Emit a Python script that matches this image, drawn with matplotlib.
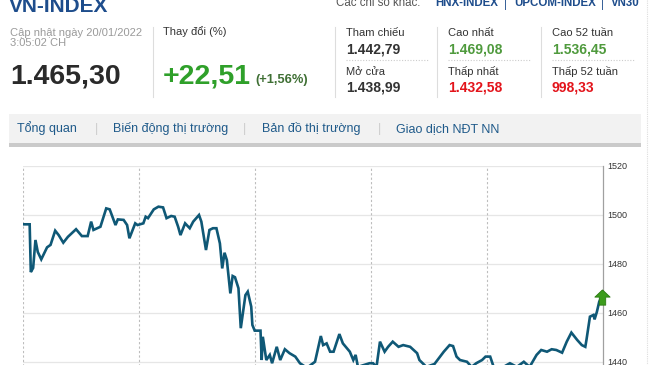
import matplotlib
matplotlib.use("Agg")
import matplotlib.pyplot as plt
from matplotlib.lines import Line2D
from matplotlib.patches import Rectangle
from matplotlib.path import Path
import numpy as np

plt.rcParams['font.family'] = ['Liberation Sans', 'DejaVu Sans']

# ---- data ----
index_name = "VN-INDEX"
updated = ["Cập nhật ngày 20/01/2022", "3:05:02 CH"]
last_value = "1.465,30"
change = "+22,51"
change_pct = "(+1,56%)"
other_label = "Các chỉ số khác:"
other_links = ["HNX-INDEX", "UPCOM-INDEX", "VN30"]
stat_labels = [["Tham chiếu", "Mở cửa"], ["Cao nhất", "Thấp nhất"], ["Cao 52 tuần", "Thấp 52 tuần"]]
stat_values = [["1.442,79", "1.438,99"], ["1.469,08", "1.432,58"], ["1.536,45", "998,33"]]
stat_colors = [["#333333", "#333333"], ["#4f9a3d", "#e3141b"], ["#4f9a3d", "#e3141b"]]
tabs = ["Tổng quan", "Biến động thị trường", "Bản đồ thị trường", "Giao dịch NĐT NN"]

# intraday series, x in trading days (5 days shown)
t = [0.00, 0.06, 0.07, 0.09, 0.11, 0.13, 0.16, 0.21, 0.24, 0.28, 0.31, 0.35, 0.39, 0.46,
     0.51, 0.56, 0.59, 0.61, 0.67, 0.72, 0.75, 0.80, 0.82, 0.87, 0.90, 0.92, 0.97, 0.99,
     1.04, 1.06, 1.08, 1.13, 1.17, 1.21, 1.24, 1.28, 1.31, 1.34, 1.36, 1.40, 1.44, 1.47,
     1.52, 1.54, 1.58, 1.61, 1.64, 1.67, 1.70, 1.72, 1.74, 1.76, 1.79, 1.81, 1.83, 1.86,
     1.88, 1.92, 1.94, 1.97, 1.98, 2.00, 2.05, 2.06, 2.07, 2.10, 2.13, 2.15, 2.19, 2.22,
     2.26, 2.30, 2.35, 2.39, 2.45, 2.52, 2.57, 2.59, 2.62, 2.65, 2.68, 2.73, 2.76, 2.82,
     2.85, 2.87, 2.89, 2.99, 3.02, 3.05, 3.08, 3.12, 3.15, 3.19, 3.24, 3.28, 3.34, 3.40,
     3.42, 3.48, 3.55, 3.63, 3.68, 3.71, 3.74, 3.77, 3.83, 3.87, 3.91, 3.96, 3.99, 4.03,
     4.06, 4.13, 4.20, 4.26, 4.32, 4.37, 4.43, 4.47, 4.52, 4.56, 4.60, 4.65, 4.69, 4.73,
     4.78, 4.82, 4.85, 4.86, 4.89, 4.92, 4.93, 4.95, 4.97, 4.99]
v = [1496.2, 1496.2, 1476.7, 1478.4, 1489.8, 1484.9, 1481.9, 1486.8, 1487.8, 1493.6, 1491.8,
     1488.7, 1491.1, 1494.2, 1491.4, 1491.4, 1497.3, 1493.9, 1495.2, 1502.7, 1502.3, 1495.9,
     1498.2, 1498.0, 1495.9, 1490.5, 1496.6, 1495.9, 1496.6, 1499.3, 1498.7, 1502.3, 1503.4,
     1503.1, 1498.7, 1499.6, 1499.3, 1495.2, 1491.8, 1496.6, 1494.6, 1497.3, 1500.0, 1497.3,
     1485.7, 1493.9, 1494.6, 1494.6, 1488.4, 1478.2, 1484.6, 1481.6, 1468.0, 1475.1, 1474.6,
     1470.1, 1453.8, 1467.3, 1468.7, 1462.6, 1455.1, 1452.8, 1452.8, 1440.8, 1450.3, 1440.8,
     1442.9, 1439.5, 1446.2, 1440.8, 1445.2, 1443.6, 1442.2, 1439.5, 1437.6, 1440.1, 1450.6,
     1446.9, 1447.6, 1444.2, 1444.2, 1451.4, 1447.6, 1444.2, 1440.8, 1442.9, 1438.0, 1439.5,
     1439.5, 1438.0, 1448.3, 1444.2, 1446.2, 1448.3, 1446.2, 1446.9, 1446.2, 1443.6, 1440.8,
     1438.0, 1439.2, 1444.2, 1446.9, 1446.5, 1442.2, 1440.8, 1440.1, 1438.0, 1439.5, 1440.8,
     1442.2, 1442.2, 1438.0, 1437.6, 1439.5, 1438.0, 1440.1, 1438.0, 1442.9, 1444.9, 1444.2,
     1445.2, 1444.9, 1443.8, 1448.3, 1452.0, 1449.0, 1446.9, 1446.2, 1449.0, 1458.5, 1459.2,
     1457.4, 1460.5, 1464.6, 1466.7]
y_ticks = [1440, 1460, 1480, 1500, 1520]
day_lines = [0, 1, 2, 3, 4]

W, H = 650, 365
fig = plt.figure(figsize=(W / 100, H / 100), dpi=100)


def fx(x):
    return x / W


def fy(y):
    return 1 - y / H


def txt(x, y, s, size, color="#333333", weight="normal", **kw):
    fig.text(fx(x), fy(y), s, fontsize=size, color=color, fontweight=weight,
             va="baseline", ha=kw.pop("ha", "left"), **kw)


def vline(x, y0, y1, color="#dddddd", ls="-", lw=0.8):
    fig.add_artist(Line2D([fx(x), fx(x)], [fy(y0), fy(y1)], color=color, ls=ls, lw=lw))


def hline(x0, x1, y, color="#dddddd", ls="-", lw=0.8):
    fig.add_artist(Line2D([fx(x0), fx(x1)], [fy(y), fy(y)], color=color, ls=ls, lw=lw))


# ---- header ----
txt(9, 11.5, index_name, 15, color="#1e4d8c", weight="bold")
txt(10, 36.5, updated[0], 8, color="#9a9a9a")
txt(10, 46.5, updated[1], 8, color="#9a9a9a")
txt(10, 83, last_value, 20.5, color="#2a2a2a", weight="bold")
vline(153, 27, 97)
txt(163, 35, "Thay đổi (%)", 8)
txt(163, 83, change, 20.5, color="#2fa02a", weight="bold")
txt(255, 83, change_pct, 9.3, color="#3f6f34", weight="bold")

txt(336, 6.5, other_label, 8.3, color="#555555")
link_x = [435, 514, 611]
for lx, s in zip(link_x, other_links):
    txt(lx, 6.5, s, 8.3, color="#1e4d8c", weight="bold")
for sx in [504, 601]:
    txt(sx, 6.5, "|", 8.3, color="#1e4d8c")

col_x = [346, 448, 552]
for i, cx in enumerate(col_x):
    vline(cx - 11, 27, 97)
    txt(cx, 36, stat_labels[i][0], 8)
    txt(cx, 53.5, stat_values[i][0], 10, color=stat_colors[i][0], weight="bold")
    hline(cx, cx + 82, 60, color="#cccccc", ls=(0, (1, 1.5)))
    txt(cx, 75, stat_labels[i][1], 8)
    txt(cx, 92, stat_values[i][1], 10, color=stat_colors[i][1], weight="bold")

# ---- tab bar ----
fig.add_artist(Rectangle((fx(9), fy(143)), fx(632), 29 / H, facecolor="#f2f2f2",
                         edgecolor="none", transform=fig.transFigure))
fig.add_artist(Rectangle((fx(9), fy(147)), fx(632), 4 / H, facecolor="#cacaca",
                         edgecolor="none", transform=fig.transFigure))
tab_x = [17, 113, 262, 396]
for tx, s in zip(tab_x, tabs):
    txt(tx, 132, s, 9, color="#1f5a8a")
for sx in [95, 243, 378]:
    txt(sx, 132, "|", 9, color="#cccccc")
vline(647, 0, 365, color="#dddddd", ls=(0, (1, 1)))

# ---- chart ----
y_top, y_bot = 1520, 1430
px_per_unit = 2.45
ax_top_px = 166
ax_bot_px = ax_top_px + (y_top - y_bot) * px_per_unit
ax = fig.add_axes([fx(22.7), fy(ax_bot_px), fx(580), (ax_bot_px - ax_top_px) / H])
ax.set_xlim(0, 5)
ax.set_ylim(y_bot, y_top)

for yt in y_ticks:
    ax.axhline(yt, color="#e6e6e6", lw=0.9, zorder=1)
for d in day_lines:
    ax.axvline(d, color="#bdbdbd", lw=0.8, ls=(0, (2, 2)), zorder=1)

ax.plot(t, v, color="#0f5876", lw=1.9, zorder=3, solid_joinstyle="miter")

arrow = Path([(0, 1), (1, 0.05), (0.42, 0.05), (0.42, -1), (-0.42, -1), (-0.42, 0.05),
              (-1, 0.05), (0, 1)])
ax.plot(t[-1], v[-1] - 0.3, marker=arrow, ms=11, color="#3c9c1c", mec="#2b7a12",
        mew=0.6, zorder=5, clip_on=False)

ax.yaxis.tick_right()
ax.set_yticks(y_ticks)
ax.set_yticklabels([str(y) for y in y_ticks])
ax.tick_params(axis="y", length=0, pad=3, labelsize=6.5, labelcolor="#333333")
ax.set_xticks([])
for side in ["top", "left", "bottom"]:
    ax.spines[side].set_visible(False)
ax.spines["right"].set_color("#a0a0a0")
ax.spines["right"].set_linewidth(0.9)

fig.savefig("out.png", dpi=100)
